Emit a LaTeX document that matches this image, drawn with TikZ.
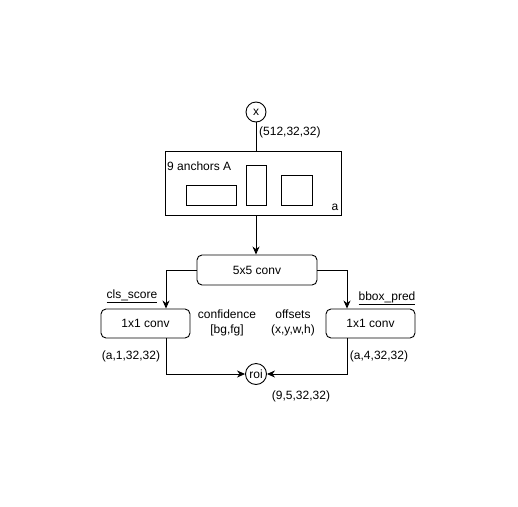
\documentclass[tikz,border=0pt]{standalone}
\usepackage{fontspec}
\setmainfont{Liberation Sans}
\usetikzlibrary{arrows.meta}
\begin{document}
\begin{tikzpicture}[x=1pt,y=-1pt,
  every node/.style={font=\fontsize{12}{14}\selectfont, inner sep=0pt},
  line/.style={line width=0.9pt, draw=black},
  arr/.style={line, -{Stealth[length=8pt,width=7pt,inset=2.5pt]}},
  circ/.style={circle, line, minimum size=20pt},
  rbox/.style={rectangle, rounded corners=5pt, line, minimum width=120pt, minimum height=30pt},
  sbox/.style={rectangle, rounded corners=5pt, line, minimum width=89pt, minimum height=29pt},
  plain/.style={rectangle, line}]
\useasboundingbox (0,0) rectangle (518,506);
\node[circ] (x) at (256,112) {x};
\node[anchor=west] (xdim) at (259,132) {(512,32,32)};
\node[plain, minimum width=176pt, minimum height=64pt] (anch) at (253,183) {};
\node[anchor=west] (anchlbl) at (167,166) {9 anchors A};
\node[plain, minimum width=50pt, minimum height=20pt] (r1) at (211,195) {};
\node[plain, minimum width=20pt, minimum height=40pt] (r2) at (256,185) {};
\node[plain, minimum width=31pt, minimum height=30pt] (r3) at (296.5,190) {};
\node (alab) at (335,207) {a};
\node[rbox] (c5) at (257,270) {5x5 conv};
\node[sbox] (cl) at (145.5,323.5) {1x1 conv};
\node[sbox] (cr) at (370.5,323.5) {1x1 conv};
\node (cls) at (132,296) {\underline{cls\_score}};
\node (bbox) at (387,298) {\underline{bbox\_pred}};
\node[align=center] (conf) at (227,323) {confidence\\[1pt][bg,fg]};
\node[align=center] (offs) at (293,323) {offsets\\[1pt](x,y,w,h)};
\node (ad1) at (131,356) {(a,1,32,32)};
\node (ad4) at (379,356) {(a,4,32,32)};
\node[circ, minimum size=21pt] (roi) at (256,374) {roi};
\node (rdim) at (301,396) {(9,5,32,32)};
\coordinate (lk) at (166,270);
\coordinate (rk) at (347,270);
\coordinate (lb) at (166,374);
\coordinate (rb) at (347,374);
\draw[line] (x) -- (anch.north -| x);
\draw[arr] (anch.south -| x) -- (c5.north -| x);
\draw[arr] (c5.west) -- (lk) -- (lk |- cl.north);
\draw[arr] (c5.east) -- (rk) -- (rk |- cr.north);
\draw[arr] (lb |- cl.south) -- (lb) -- (roi.west);
\draw[arr] (rb |- cr.south) -- (rb) -- (roi.east);
\end{tikzpicture}
\end{document}
